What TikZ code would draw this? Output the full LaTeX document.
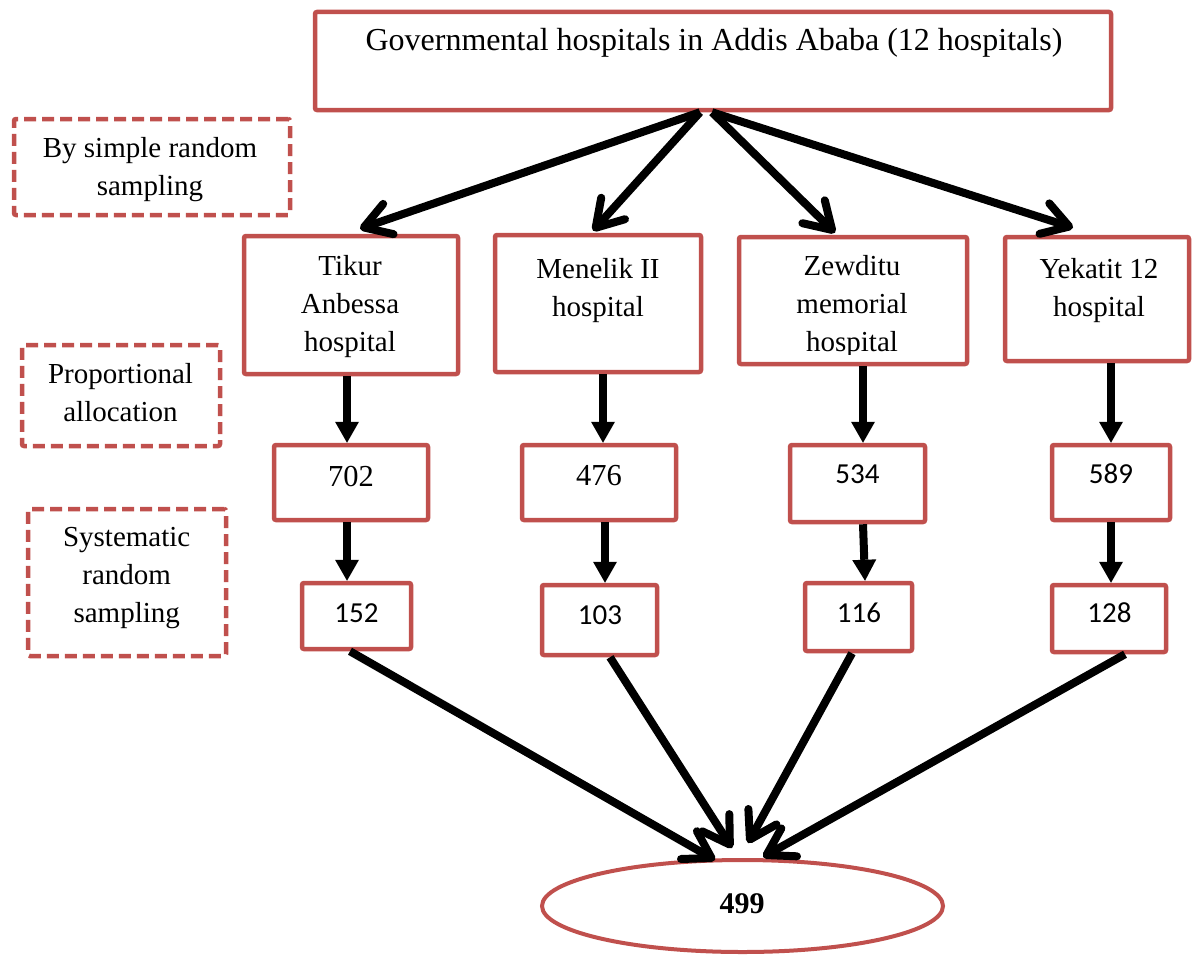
\documentclass[tikz,border=0pt]{standalone}
\usepackage{fontspec}
\setmainfont{Liberation Serif}
\newfontfamily\calfont{Carlito}
\usetikzlibrary{arrows.meta,shapes.geometric}
\definecolor{boxred}{RGB}{192,80,77}
\begin{document}
\begin{tikzpicture}[x=1pt,y=-1pt,
  rbox/.style={draw=boxred, line width=4.5pt, rounded corners=2pt, inner sep=0pt, fill=white},
  dbox/.style={rbox, dash pattern=on 12pt off 6pt},
  ebox/.style={ellipse, draw=boxred, line width=4pt, inner sep=0pt, fill=white},
  txt/.style={inner sep=0pt, anchor=north, align=center, font=\fontsize{29}{38}\selectfont},
  numt/.style={inner sep=0pt, anchor=base, font=\fontsize{30.5}{36}\selectfont},
  calt/.style={inner sep=0pt, anchor=base, font=\calfont\fontsize{29}{36}\selectfont},
  barrow/.style={line width=8pt, -{Straight Barb[length=26pt,width=32pt,round]}},
  varrow/.style={line width=8pt, -{Triangle[length=21pt,width=24pt,line width=0pt]}},
]
\useasboundingbox (0,0) rectangle (1193,958);

% boxes
\node[rbox, minimum width=796pt, minimum height=98pt] (top) at (713,61) {};
\node[dbox, minimum width=276pt, minimum height=96pt] (byr) at (152,167) {};
\node[dbox, minimum width=198pt, minimum height=101pt] (prop) at (121,395.5) {};
\node[dbox, minimum width=198pt, minimum height=147pt] (syst) at (127,582.5) {};

\node[rbox, minimum width=214pt, minimum height=138pt] (tikur) at (351,305) {};
\node[rbox, minimum width=206pt, minimum height=137pt] (menelik) at (598,303.5) {};
\node[rbox, minimum width=228pt, minimum height=127pt] (zewditu) at (853,300.5) {};
\node[rbox, minimum width=184pt, minimum height=124pt] (yekatit) at (1097,299) {};

\node[rbox, minimum width=154pt, minimum height=75pt] (n702) at (351,482.5) {};
\node[rbox, minimum width=154pt, minimum height=75pt] (n476) at (599,482.5) {};
\node[rbox, minimum width=135pt, minimum height=77pt] (n534) at (857.5,483.5) {};
\node[rbox, minimum width=118pt, minimum height=75pt] (n589) at (1111,482.5) {};

\node[rbox, minimum width=109pt, minimum height=66pt] (b152) at (356.5,616) {};
\node[rbox, minimum width=115pt, minimum height=70pt] (b103) at (599.5,620) {};
\node[rbox, minimum width=107pt, minimum height=68pt] (b116) at (858.5,617) {};
\node[rbox, minimum width=114pt, minimum height=67pt] (b128) at (1109,618.5) {};

\node[ebox, minimum width=401pt, minimum height=92pt] (ell) at (742.5,906) {};

% texts
\node[inner sep=0pt, anchor=base, font=\fontsize{32}{38}\selectfont] (toptxt) at (714,51) {Governmental hospitals in Addis Ababa (12 hospitals)};
\node[txt] (byrt) at (150,137.2) {By simple random\\sampling};
\node[txt] (propt) at (120.5,363.2) {Proportional\\allocation};
\node[txt] (systt) at (126.7,527.4) {Systematic\\random\\sampling};

\node[txt] (tikurt) at (350,255.2) {Tikur\\Anbessa\\hospital};
\node[txt] (menelikt) at (598,258.2) {Menelik II\\hospital};
\begin{scope}
\clip (739,237) rectangle (967,354);
\node[txt] (zewditut) at (852,255.2) {Zewditu\\memorial\\hospital};
\end{scope}
\node[txt] (yekatitt) at (1099,258.2) {Yekatit 12\\hospital};

\node[numt] (t702) at (351,486) {702};
\node[numt] (t476) at (599,485) {476};
\node[calt] (t534) at (857.5,483) {534};
\node[calt] (t589) at (1111,483) {589};
\node[calt] (t152) at (356.5,622) {152};
\node[calt] (t103) at (600,624) {103};
\node[calt] (t116) at (859,622) {116};
\node[calt] (t128) at (1109.5,622) {128};
\node[inner sep=0pt, anchor=base, font=\bfseries\fontsize{30}{36}\selectfont] (t499) at (742,913) {499};

% arrows from the top box
\draw[barrow] ([xshift=-13pt]top.south) -- ([xshift=9pt,yshift=5pt]tikur.north);
\draw[barrow] ([xshift=-13pt]top.south) -- ([xshift=-5pt,yshift=2pt]menelik.north);
\draw[barrow] ([xshift=-1pt]top.south) -- ([xshift=-18pt,yshift=2pt]zewditu.north);
\draw[barrow] ([xshift=-1pt]top.south) -- ([xshift=-24pt,yshift=7pt]yekatit.north);

% vertical arrows
\draw[varrow] ([xshift=-4pt]tikur.south) -- ([xshift=-4pt]tikur.south |- n702.north);
\draw[varrow] ([xshift=-4pt]n702.south) -- ([xshift=-4pt]n702.south |- b152.north);
\draw[varrow] ([xshift=5pt]menelik.south) -- ([xshift=5pt]menelik.south |- n476.north);
\draw[varrow] ([xshift=6pt]n476.south) -- ([xshift=6pt]n476.south |- b103.north);
\draw[varrow] ([xshift=10pt]zewditu.south) -- ([xshift=10pt]zewditu.south |- n534.north);
\draw[varrow] ([xshift=5.5pt]n534.south) -- ([xshift=6.5pt]b116.north);
\draw[varrow] ([xshift=14pt]yekatit.south) -- ([xshift=14pt]yekatit.south |- n589.north);
\draw[varrow] (n589.south) -- (n589.south |- b128.north);

% arrows to the total
\draw[barrow] ([xshift=-6.5pt]b152.south) -- ([xshift=-27.5pt,yshift=-2pt]ell.north);
\draw[barrow] ([xshift=10.5pt]b103.south) -- ([xshift=-10.5pt,yshift=10pt]ell.north);
\draw[barrow] ([xshift=-6.5pt]b116.south) -- ([xshift=5.5pt,yshift=15pt]ell.north);
\draw[barrow] ([xshift=16pt]b128.south) -- ([xshift=20.5pt,yshift=1pt]ell.north);
\end{tikzpicture}
\end{document}
